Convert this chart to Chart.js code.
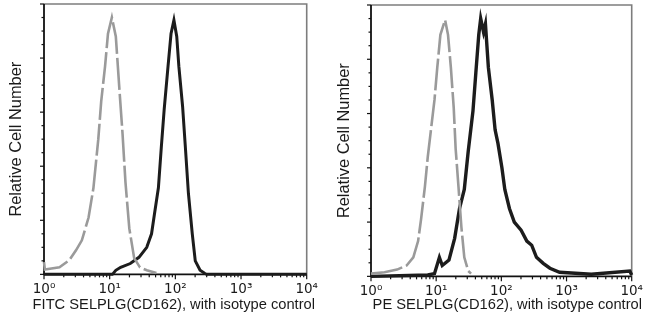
<!DOCTYPE html>
<html>
<head>
<meta charset="utf-8">
<script src="https://cdn.jsdelivr.net/npm/chart.js@4"></script>
<style>
  html, body { margin: 0; padding: 0; background: #fff; }
  body { width: 650px; height: 326px; position: relative; overflow: hidden; }
  canvas { position: absolute; top: 0; }
  #c1 { left: 0; }
  #c2 { left: 325px; }
</style>
</head>
<body>
<canvas id="c1" width="325" height="326"></canvas>
<canvas id="c2" width="325" height="326"></canvas>
<script>
// ---- Tick positions and labels ----
const X_MAJOR = [1, 10, 100, 1000, 10000];
const X_TICK_LABELS = ['10\u2070', '10\u00B9', '10\u00B2', '10\u00B3', '10\u2074'];
const X_MINOR = [2,3,4,5,6,7,8,9, 20,30,40,50,60,70,80,90, 200,300,400,500,600,700,800,900, 2000,3000,4000,5000,6000,7000,8000,9000];
const Y_MAJOR = [0, 20, 40, 60, 80, 100];
const Y_MINOR = [5,10,15, 25,30,35, 45,50,55, 65,70,75, 85,90,95];

// ---- Axis titles ----
const Y_TITLE = 'Relative Cell Number';
const X_TITLE_LEFT = 'FITC SELPLG(CD162), with isotype control';
const X_TITLE_RIGHT = 'PE SELPLG(CD162), with isotype control';

// ---- Left panel: FITC ----
const FITC_ISO_X = [1.0, 1.03, 1.72, 2.42, 3.07, 3.77, 4.77, 5.66, 6.71, 7.43, 8.51, 9.42, 10.8, 12.4, 14.2, 15.7, 17.4, 19.9, 23.6, 28.9, 36.7, 51.5];
const FITC_ISO_Y = [4.5, 1.8, 2.6, 5.2, 8.9, 12.6, 21, 32, 50, 64, 77, 89, 95, 88, 67, 52, 34, 17, 6, 2.6, 1.5, 0.5];
const FITC_AB_X = [1, 11, 12.4, 14.7, 20.6, 27.9, 36.7, 43.4, 48.2, 55.2, 61.1, 67.6, 77.4, 85.9, 95.1, 105, 113, 129, 143, 158, 181, 201, 238, 282, 300, 10000];
const FITC_AB_Y = [0, 0, 1.5, 2.6, 4, 6.3, 10, 15, 22.5, 32, 47, 61, 77, 89, 94, 88, 77, 62, 46, 30, 15, 5, 1.5, 0.3, 0, 0];

// ---- Right panel: PE ----
const PE_ISO_X = [1.0, 1.61, 2.51, 3.52, 4.46, 5.28, 5.86, 6.71, 7.43, 8.22, 9.42, 10.4, 11.6, 13.7, 15.2, 16.8, 18.6, 19.9, 22.0, 24.4, 27.0, 31.0, 34.3];
const PE_ISO_Y = [1, 1.5, 2.5, 4, 7, 13, 21, 33, 44, 53, 65, 77, 89, 94.5, 89, 77, 62, 47, 33, 18, 7, 2, 1];
const PE_AB_X = [1, 7.43, 9.42, 11.2, 12.4, 15.7, 19.2, 22.8, 27.0, 31.0, 36.7, 40.6, 45.0, 48.2, 53.3, 57.0, 63.2, 72.4, 80.2, 88.7, 102, 113, 133, 158, 201, 246, 292, 346, 439, 556, 782, 2400, 9330, 10000];
const PE_AB_Y = [0, 0.5, 1, 7, 4, 6, 14, 25, 32, 46, 61, 75, 89, 95, 90, 93, 77, 65, 54, 49, 40, 32, 25, 20, 17, 13, 11.5, 7, 4.8, 3, 1.5, 0.8, 2, 0.5];

const FONT = "'Liberation Sans', Arial, Helvetica, sans-serif";
const TICK_FONT = "'DejaVu Sans', 'Liberation Sans', Arial, sans-serif";
const GRAY = '#9a9a9a';
const BLACK = '#1c1c1c';

function pts(xs, ys) { return xs.map((x, i) => ({ x: x, y: ys[i] })); }

const framePlugin = {
  id: 'frame',
  beforeDatasetsDraw(chart) {
    const { ctx, chartArea: a, scales } = chart;
    const xs = scales.x, ys = scales.y;
    ctx.save();
    ctx.lineCap = 'butt';
    ctx.strokeStyle = '#7d7d7d';
    ctx.lineWidth = 1.6;
    ctx.beginPath();
    ctx.moveTo(a.left, a.top); ctx.lineTo(a.right, a.top); ctx.lineTo(a.right, a.bottom);
    ctx.stroke();
    ctx.strokeStyle = '#111';
    ctx.lineWidth = 1.8;
    ctx.beginPath();
    ctx.moveTo(a.left, a.top); ctx.lineTo(a.left, a.bottom); ctx.lineTo(a.right, a.bottom);
    ctx.stroke();
    ctx.lineWidth = 1.2;
    const seg = (x1, y1, x2, y2) => { ctx.beginPath(); ctx.moveTo(x1, y1); ctx.lineTo(x2, y2); ctx.stroke(); };
    X_MAJOR.forEach(v => { const p = xs.getPixelForValue(v); seg(p, a.bottom, p, a.bottom + 5); });
    X_MINOR.forEach(v => { const p = xs.getPixelForValue(v); seg(p, a.bottom, p, a.bottom + 3); });
    Y_MAJOR.forEach(v => { const p = ys.getPixelForValue(v); seg(a.left - 4, p, a.left, p); });
    Y_MINOR.forEach(v => { const p = ys.getPixelForValue(v); seg(a.left - 2.5, p, a.left, p); });
    ctx.restore();
  }
};

function makeChart(id, isoX, isoY, abX, abY, xTitle, cfg) {
  return new Chart(document.getElementById(id), {
    type: 'line',
    data: {
      datasets: [
        { data: pts(isoX, isoY), borderColor: GRAY, borderWidth: 2.6, borderDash: [32, 4], pointRadius: 0, tension: 0, clip: false },
        { data: pts(abX, abY), borderColor: BLACK, borderWidth: cfg.abWidth, pointRadius: 0, tension: 0, clip: false }
      ]
    },
    options: {
      responsive: false,
      animation: false,
      devicePixelRatio: 1,
      layout: { padding: { top: cfg.top, right: cfg.right, left: 0, bottom: 0 } },
      plugins: {
        legend: { display: false },
        tooltip: { enabled: false },
        title: {
          display: true, position: 'bottom', align: 'end', text: xTitle,
          color: '#1a1a1a',
          font: { family: FONT, size: 14.7, weight: 'normal', lineHeight: 1.2 },
          padding: { top: 0, bottom: 12 }
        }
      },
      scales: {
        x: {
          type: 'logarithmic',
          min: 1, max: 10000,
          grid: { display: false, drawTicks: false, tickLength: 0 },
          border: { display: false },
          afterBuildTicks: s => { s.ticks = X_MAJOR.map(v => ({ value: v })); },
          afterFit: s => { s.height = cfg.xh; },
          ticks: {
            autoSkip: false, maxRotation: 0, padding: 7,
            color: '#1a1a1a',
            font: { family: TICK_FONT, size: 13.5 },
            callback: (v, i) => X_TICK_LABELS[i]
          }
        },
        y: {
          min: 0, max: 100,
          grid: { display: false, drawTicks: false, tickLength: 0 },
          border: { display: false },
          ticks: { display: false },
          afterFit: s => { s.width = cfg.yw; },
          title: {
            display: true, text: Y_TITLE, color: '#1a1a1a',
            font: { family: FONT, size: 16.4 },
            padding: { top: cfg.ytp, bottom: 0 }
          }
        }
      }
    },
    plugins: [framePlugin]
  });
}

makeChart('c1', FITC_ISO_X, FITC_ISO_Y, FITC_AB_X, FITC_AB_Y, X_TITLE_LEFT,
  { top: 4, right: 10, xh: 22, yw: 44, ytp: 7, abWidth: 3 });
makeChart('c2', PE_ISO_X, PE_ISO_Y, PE_AB_X, PE_AB_Y, X_TITLE_RIGHT,
  { top: 5, right: 8, xh: 20, yw: 46, ytp: 10, abWidth: 3.4 });
</script>
</body>
</html>
